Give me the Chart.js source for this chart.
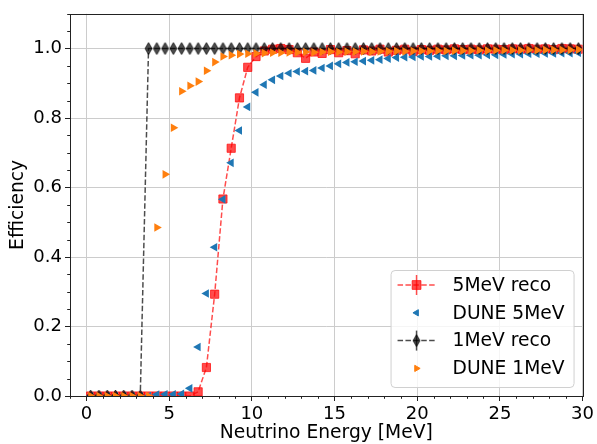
<!DOCTYPE html>
<html>
<head>
<meta charset="utf-8">
<script src="https://cdn.jsdelivr.net/npm/chart.js"></script>
<style>
  body { margin: 0; background: #fff; }
  #chart { display: block; }
</style>
</head>
<body>
<canvas id="chart" width="597" height="444"></canvas>
<script>
// bin centres [MeV], 0.5 MeV bins
const energies = [
  0.25, 0.75, 1.25, 1.75, 2.25, 2.75, 3.25, 3.75, 4.25, 4.75,
  5.25, 5.75, 6.25, 6.75, 7.25, 7.75, 8.25, 8.75, 9.25, 9.75,
  10.25, 10.75, 11.25, 11.75, 12.25, 12.75, 13.25, 13.75, 14.25, 14.75,
  15.25, 15.75, 16.25, 16.75, 17.25, 17.75, 18.25, 18.75, 19.25, 19.75,
  20.25, 20.75, 21.25, 21.75, 22.25, 22.75, 23.25, 23.75, 24.25, 24.75,
  25.25, 25.75, 26.25, 26.75, 27.25, 27.75, 28.25, 28.75, 29.25, 29.75
];

const reco5MeV = [
  0, 0, 0, 0, 0, 0, 0, 0, 0, 0,
  0, 0, 0, 0.012, 0.082, 0.293, 0.567, 0.713, 0.858, 0.946,
  0.977, 0.993, 0.998, 1.0, 0.997, 0.988, 0.972, 0.990, 0.986, 0.997,
  0.988, 0.994, 0.985, 0.996, 0.993, 0.998, 0.990, 0.995, 0.998, 0.992,
  0.997, 0.995, 0.998, 0.996, 0.999, 0.997, 0.998, 0.996, 0.999, 0.998,
  0.997, 0.999, 0.998, 1.0, 0.998, 0.999, 0.997, 1.0, 0.999, 0.998
];

const dune5MeV = [
  0, 0, 0, 0, 0, 0, 0, 0, 0.004, 0.005,
  0.005, 0.006, 0.022, 0.141, 0.295, 0.428, 0.566, 0.671, 0.764, 0.832,
  0.874, 0.896, 0.910, 0.921, 0.929, 0.934, 0.935, 0.937, 0.944, 0.950,
  0.956, 0.960, 0.962, 0.964, 0.966, 0.968, 0.971, 0.974, 0.975, 0.976,
  0.977, 0.977, 0.978, 0.979, 0.979, 0.980, 0.981, 0.981, 0.982, 0.982,
  0.983, 0.984, 0.984, 0.985, 0.985, 0.986, 0.986, 0.987, 0.987, 0.988
];

const reco1MeV = [
  0, 0, 0, 0, 0, 0, 0, 1, 1, 1,
  1, 1, 1, 1, 1, 1, 1, 1, 1, 1,
  1, 1, 1, 1, 1, 1, 1, 1, 1, 1,
  1, 1, 1, 1, 1, 1, 1, 1, 1, 1,
  1, 1, 1, 1, 1, 1, 1, 1, 1, 1,
  1, 1, 1, 1, 1, 1, 1, 1, 1, 1
];

const dune1MeV = [
  0, 0, 0, 0, 0, 0, 0, 0, 0.485, 0.638,
  0.772, 0.877, 0.893, 0.905, 0.936, 0.961, 0.977, 0.981, 0.984, 0.985,
  0.986, 0.987, 0.988, 0.988, 0.989, 0.989, 0.990, 0.989, 0.990, 0.991,
  0.990, 0.991, 0.991, 0.992, 0.991, 0.992, 0.992, 0.993, 0.992, 0.993,
  0.993, 0.993, 0.994, 0.993, 0.994, 0.994, 0.994, 0.995, 0.994, 0.995,
  0.995, 0.995, 0.995, 0.996, 0.995, 0.996, 0.996, 0.996, 0.996, 0.997
];

const xTicks = [0, 5, 10, 15, 20, 25, 30];
const xTickLabels = ['0', '5', '10', '15', '20', '25', '30'];
const yTicks = [0, 0.2, 0.4, 0.6, 0.8, 1.0];
const yTickLabels = ['0.0', '0.2', '0.4', '0.6', '0.8', '1.0'];
const seriesLabels = ['5MeV reco', 'DUNE 5MeV', '1MeV reco', 'DUNE 1MeV'];

const FONT = "'DejaVu Sans', sans-serif";
const TICK_SIZE = 18;
const LABEL_SIZE = 18.7;

// thin diamond marker (matplotlib 'd')
function thinDiamond(w, h, color) {
  const c = document.createElement('canvas');
  c.width = w + 2;
  c.height = h + 2;
  const g = c.getContext('2d');
  g.beginPath();
  g.moveTo(c.width / 2, 1);
  g.lineTo(c.width - 1, c.height / 2);
  g.lineTo(c.width / 2, c.height - 1);
  g.lineTo(1, c.height / 2);
  g.closePath();
  g.fillStyle = color;
  g.fill();
  g.strokeStyle = color;
  g.lineWidth = 1;
  g.stroke();
  return c;
}

const diamond = thinDiamond(7, 12, 'rgba(0,0,0,0.7)');

const toPoints = (ys) => energies.map((x, i) => ({ x: x, y: ys[i] }));

// frame + minor ticks
const framePlugin = {
  id: 'frame',
  afterDraw(chart) {
    const { ctx, chartArea: a, scales } = chart;
    ctx.save();
    ctx.strokeStyle = '#222';
    ctx.lineWidth = 1;
    ctx.beginPath();
    for (let v = -1; v <= 30; v++) {
      if (v % 5 === 0) continue;
      const px = Math.round(scales.x.getPixelForValue(v)) + 0.5;
      ctx.moveTo(px, a.bottom);
      ctx.lineTo(px, a.bottom + 2.8);
    }
    for (let k = 1; k <= 22; k++) {
      if (k % 4 === 0) continue;
      const py = Math.round(scales.y.getPixelForValue(k * 0.05)) + 0.5;
      ctx.moveTo(a.left, py);
      ctx.lineTo(a.left - 2.8, py);
    }
    ctx.stroke();
    ctx.strokeRect(Math.round(a.left) + 0.5, Math.round(a.top) + 0.5,
      Math.round(a.right - a.left), Math.round(a.bottom - a.top));
    ctx.restore();
  }
};

// matplotlib-like legend in the lower right corner
const legendPlugin = {
  id: 'mplLegend',
  afterDraw(chart) {
    const { ctx, chartArea: a } = chart;
    const w = 183, h = 117;
    const x0 = a.right - 9 - w, y0 = a.bottom - 9 - h;
    ctx.save();
    ctx.beginPath();
    ctx.roundRect(x0 + 0.5, y0 + 0.5, w, h, 4);
    ctx.fillStyle = 'rgba(255,255,255,0.8)';
    ctx.fill();
    ctx.strokeStyle = '#d0d0d0';
    ctx.lineWidth = 1;
    ctx.stroke();

    const hx0 = x0 + 7, hx1 = x0 + 46, hc = x0 + 26;
    const rowH = 27.8;
    ctx.font = LABEL_SIZE + 'px ' + FONT;
    ctx.textBaseline = 'middle';
    ctx.fillStyle = '#000';
    chart.data.datasets.forEach((ds, i) => {
      const cy = y0 + 15 + i * rowH;
      if (ds.showLine) {
        ctx.save();
        ctx.strokeStyle = ds.borderColor;
        ctx.lineWidth = ds.borderWidth;
        ctx.setLineDash(ds.borderDash);
        ctx.beginPath();
        ctx.moveTo(hx0, cy);
        ctx.lineTo(hx1, cy);
        ctx.stroke();
        ctx.setLineDash([]);
        ctx.beginPath();
        ctx.moveTo(hc, cy - 10);
        ctx.lineTo(hc, cy + 10);
        ctx.stroke();
        ctx.restore();
      }
      ctx.save();
      ctx.fillStyle = ds.pointBackgroundColor;
      ctx.strokeStyle = ds.pointBorderColor;
      ctx.lineWidth = 1;
      Chart.helpers.drawPoint(ctx, {
        pointStyle: ds.pointStyle,
        rotation: ds.pointRotation || 0,
        radius: ds.legendRadius,
        borderWidth: 1
      }, hc, cy);
      ctx.restore();
      ctx.fillText(seriesLabels[i], x0 + 62, cy + 1);
    });
    ctx.restore();
  }
};

const ctx = document.getElementById('chart').getContext('2d');
new Chart(ctx, {
  type: 'scatter',
  data: {
    datasets: [
      {
        label: seriesLabels[0],
        data: toPoints(reco5MeV),
        showLine: true,
        borderColor: 'rgba(255,0,0,0.7)',
        borderWidth: 1.5,
        borderDash: [5.5, 2.4],
        pointStyle: 'rect',
        pointRadius: 5.8,
        legendRadius: 6.2,
        pointBackgroundColor: 'rgba(255,0,0,0.7)',
        pointBorderColor: 'rgba(255,0,0,0.7)',
        pointBorderWidth: 1,
        clip: 0,
        order: 4
      },
      {
        label: seriesLabels[1],
        data: toPoints(dune5MeV),
        showLine: false,
        pointStyle: 'triangle',
        pointRotation: 270,
        pointRadius: 5,
        legendRadius: 3.6,
        pointBackgroundColor: '#1f77b4',
        pointBorderColor: '#1f77b4',
        pointBorderWidth: 0,
        clip: 0,
        order: 3
      },
      {
        label: seriesLabels[2],
        data: toPoints(reco1MeV),
        showLine: true,
        borderColor: 'rgba(0,0,0,0.7)',
        borderWidth: 1.5,
        borderDash: [5.5, 2.4],
        pointStyle: diamond,
        pointRadius: 5,
        legendRadius: 5,
        pointBackgroundColor: 'rgba(0,0,0,0.7)',
        pointBorderColor: 'rgba(0,0,0,0.7)',
        clip: 0,
        order: 2
      },
      {
        label: seriesLabels[3],
        data: toPoints(dune1MeV),
        showLine: false,
        pointStyle: 'triangle',
        pointRotation: 90,
        pointRadius: 5,
        legendRadius: 3.6,
        pointBackgroundColor: '#ff7f0e',
        pointBorderColor: '#ff7f0e',
        pointBorderWidth: 0,
        clip: 0,
        order: 1
      }
    ]
  },
  options: {
    responsive: false,
    devicePixelRatio: 1,
    animation: false,
    layout: { padding: { top: 11, right: 14, left: 0, bottom: 0 } },
    plugins: {
      legend: { display: false },
      tooltip: { enabled: false }
    },
    scales: {
      x: {
        type: 'linear',
        min: -1,
        max: 30,
        afterBuildTicks: (s) => { s.ticks = xTicks.map(v => ({ value: v })); },
        afterFit: (s) => { s.height = 48; },
        border: { display: false },
        grid: { color: '#cccccc', lineWidth: 1, tickLength: 5, tickColor: '#222', tickWidth: 1 },
        ticks: {
          color: '#000',
          padding: 3,
          maxRotation: 0,
          font: { family: FONT, size: TICK_SIZE },
          callback: (v, i) => xTickLabels[i]
        },
        title: {
          display: true,
          text: 'Neutrino Energy [MeV]',
          color: '#000',
          padding: { top: 0, bottom: 0 },
          font: { family: FONT, size: LABEL_SIZE }
        }
      },
      y: {
        type: 'linear',
        min: 0,
        max: 1.1,
        afterBuildTicks: (s) => { s.ticks = yTicks.map(v => ({ value: v })); },
        afterFit: (s) => { s.width = 70; },
        border: { display: false },
        grid: { color: '#cccccc', lineWidth: 1, tickLength: 5, tickColor: '#222', tickWidth: 1 },
        ticks: {
          color: '#000',
          padding: 3,
          font: { family: FONT, size: TICK_SIZE },
          callback: (v, i) => yTickLabels[i]
        },
        title: {
          display: true,
          text: 'Efficiency',
          color: '#000',
          padding: { top: 7, bottom: 0 },
          font: { family: FONT, size: LABEL_SIZE }
        }
      }
    }
  },
  plugins: [framePlugin, legendPlugin]
});
</script>
</body>
</html>
